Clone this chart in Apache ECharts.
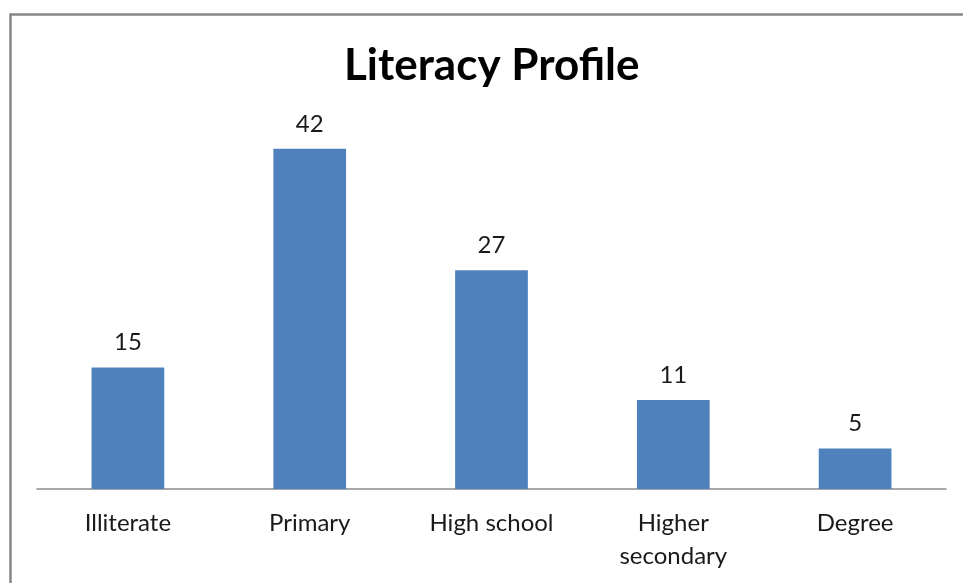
<!DOCTYPE html>
<html>
<head>
<meta charset="utf-8">
<style>
  html, body { margin: 0; padding: 0; background: #ffffff; }
  #chart { width: 963px; height: 583px; }
</style>
<script src="https://cdn.jsdelivr.net/npm/echarts@6/dist/echarts.min.js"></script>
</head>
<body>
<div id="chart"></div>
<script>
// Literacy levels and the count in each group
const categories = ['Illiterate', 'Primary', 'High school', 'Higher\nsecondary', 'Degree'];
const counts = [15, 42, 27, 11, 5];
const chartTitle = 'Literacy Profile';

const FONT = 'Lato, "Open Sans", "Noto Sans", sans-serif';

const chart = echarts.init(document.getElementById('chart'), null, { renderer: 'canvas' });

chart.setOption({
  animation: false,
  backgroundColor: '#ffffff',
  title: {
    text: chartTitle,
    left: 339,
    top: 39,
    textStyle: { fontFamily: FONT, fontWeight: 'bold', fontSize: 44, color: '#000000' }
  },
  graphic: [{
    // outer frame of the chart area
    type: 'rect',
    left: 8, top: 12,
    shape: { width: 1200, height: 1000 },
    style: { fill: null, stroke: '#868686', lineWidth: 2.5 },
    silent: true
  }],
  grid: { left: 37, right: 17, top: 84, bottom: 94, containLabel: false },
  xAxis: {
    type: 'category',
    data: categories,
    axisLine: { show: true, lineStyle: { color: '#8c8c8c', width: 1.5 } },
    axisTick: { show: false },
    axisLabel: {
      interval: 0,
      margin: 18,
      fontFamily: FONT,
      fontSize: 24,
      color: '#1a1a1a',
      lineHeight: 33
    }
  },
  yAxis: {
    type: 'value',
    min: 0, max: 50, interval: 10,
    show: false,
    splitLine: { show: false }
  },
  series: [{
    type: 'bar',
    data: counts,
    barWidth: '40%',
    itemStyle: { color: '#4f81bd' },
    label: {
      show: true,
      position: 'top',
      distance: 13,
      fontFamily: FONT,
      fontSize: 24,
      color: '#1a1a1a'
    }
  }]
});
</script>
</body>
</html>
